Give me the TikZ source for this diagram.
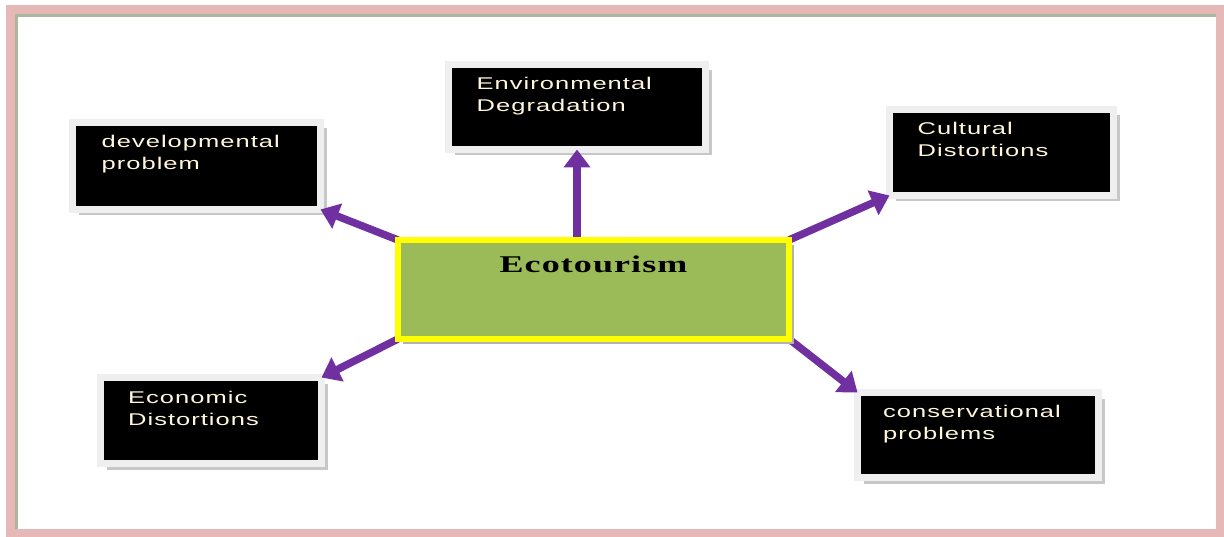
\documentclass[tikz,border=0pt]{standalone}
\usepackage{fontspec}
\usepackage{graphicx}
\usetikzlibrary{arrows.meta,shadows}
\newfontfamily\boxfont[LetterSpace=4]{Liberation Sans}
\newfontfamily\ecofont[LetterSpace=3]{Liberation Serif}
\definecolor{framepink}{HTML}{E6B8B7}
\definecolor{frameolive}{HTML}{A9B89A}
\definecolor{arrowpurple}{HTML}{7030A0}
\definecolor{ecogreen}{HTML}{9BBB59}
\definecolor{ecoyellow}{HTML}{FFFF00}
\definecolor{boxgray}{HTML}{EFEFEF}
\definecolor{boxtext}{HTML}{FFF6DC}
\newcommand{\twolines}[2]{\scalebox{1.5}[1]{\vtop{\baselineskip=22pt\lineskiplimit=-10pt\hbox{#1}\hbox{#2}}}}
\pgfdeclarelayer{fg}
\pgfsetlayers{main,fg}
\tikzset{
  blackbox/.style={rectangle, fill=black, draw=boxgray, line width=7pt,
    outer sep=0pt, inner sep=0pt,
    drop shadow={shadow xshift=6pt, shadow yshift=-6pt, fill=black!22, opacity=1}},
  boxlabel/.style={anchor=base west, inner sep=0pt, text=boxtext,
    font=\boxfont\fontsize{17}{22}\selectfont},
  centerbox/.style={rectangle, fill=ecogreen, draw=ecoyellow, line width=6pt,
    outer sep=0pt, inner sep=0pt, minimum width=391pt, minimum height=99pt,
    drop shadow={shadow xshift=5pt, shadow yshift=-5pt, fill=black!30, opacity=1}},
  link/.style={draw=arrowpurple, line width=7.5pt, -{Triangle[width=26pt,length=18pt]}},
}
\begin{document}
\begin{tikzpicture}[x=1pt,y=-1pt]
\useasboundingbox (0,0) rectangle (1224,537);
% frame
\draw[framepink, line width=9pt] (10,10) rectangle (1220,533);
\draw[frameolive, line width=3pt] (16.5,529) -- (16.5,15.5) -- (1216,15.5);
% boxes
\node[blackbox, minimum width=248pt, minimum height=87pt] (dev) at (196.5,166) {};
\node[blackbox, minimum width=257pt, minimum height=85pt] (env) at (577,107) {};
\node[blackbox, minimum width=224pt, minimum height=86pt] (cul) at (1001.5,152.5) {};
\node[blackbox, minimum width=221pt, minimum height=86pt] (econ) at (211,420.5) {};
\node[blackbox, minimum width=241pt, minimum height=85pt] (con) at (978,435) {};
% labels
\node[boxlabel] (devt) at ([shift={(29,25.5)}]dev.north west) {\twolines{developmental}{problem}};
\node[boxlabel] (envt) at ([shift={(28,25.5)}]env.north west) {\twolines{Environmental}{Degradation}};
\node[boxlabel] (cult) at ([shift={(28,25.5)}]cul.north west) {\twolines{Cultural}{Distortions}};
\node[boxlabel] (econt) at ([shift={(27.5,25.5)}]econ.north west) {\twolines{Economic}{Distortions}};
\node[boxlabel] (cont) at ([shift={(25.5,25)}]con.north west) {\twolines{conservational}{problems}};
% centre
\begin{pgfonlayer}{fg}
\node[centerbox] (eco) at (593.5,289.5) {};
\node[anchor=base, inner sep=0pt, font=\ecofont\bfseries\fontsize{24}{28}\selectfont] (ecot) at (593.5,273) {\scalebox{1.5}[1]{Ecotourism}};
\end{pgfonlayer}
% arrows
\draw[link] (eco.north west) -- (dev.south east);
\draw[link] (eco.north -| env.south) -- (env.south);
\draw[link] (eco.north east) -- (cul.south west);
\draw[link] (eco.south west) -- (econ.north east);
\draw[link] (eco.south east) -- (con.north west);
\end{tikzpicture}
\end{document}
